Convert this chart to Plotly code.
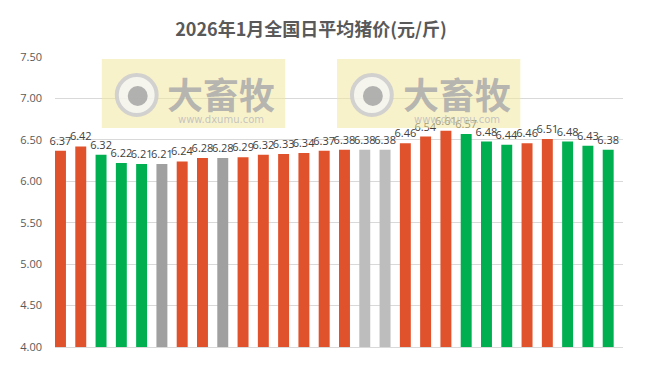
import plotly.graph_objects as go

days = [f"1月{i}日" for i in range(1, 29)]
prices = [6.37, 6.42, 6.32, 6.22, 6.21, 6.21, 6.24, 6.28, 6.28, 6.29, 6.32, 6.33, 6.34, 6.37,
          6.38, 6.38, 6.38, 6.46, 6.54, 6.61, 6.57, 6.48, 6.44, 6.46, 6.51, 6.48, 6.43, 6.38]
trend = ["up", "up", "down", "down", "down", "flat", "up", "up", "flat", "up", "up", "up", "up", "up",
         "up", "flat2", "flat2", "up", "up", "up", "down", "down", "down", "up", "up", "down", "down", "down"]
y_ticks = [4.00, 4.50, 5.00, 5.50, 6.00, 6.50, 7.00, 7.50]

color_map = {"up": "#E0522B", "down": "#00B050", "flat": "#A0A0A0", "flat2": "#BDBDBD"}
colors = [color_map[t] for t in trend]

fig = go.Figure()
fig.add_trace(go.Bar(
    x=days, y=prices, marker_color=colors, marker_line_width=0,
    width=0.54, offset=-0.5,
    text=[f"{v:.2f}" for v in prices], textposition="outside",
    textfont=dict(size=11, color="#404040", family="Open Sans"),
    constraintext="none", cliponaxis=False, hoverinfo="x+y",
))

OFF = 8  # page body margin
FW, FH = 649 - OFF, 367 - OFF
L, R, T, B = 53, 623, 57, 347  # screen pixels of plot area
W, H = R - L, B - T
def px(x): return (x - L) / W
def py(y): return (B - y) / H

shapes = []
annotations = []
for x0 in (100, 336):
    x1 = x0 + 184
    shapes.append(dict(type="rect", xref="paper", yref="paper", x0=px(x0), x1=px(x1), y0=py(128), y1=py(59),
                       fillcolor="rgba(242,232,160,0.55)", line_width=0, layer="above"))
    cx, cy = x0 + 35, 95
    shapes.append(dict(type="circle", xref="paper", yref="paper", x0=px(cx - 20), x1=px(cx + 20),
                       y0=py(cy + 20), y1=py(cy - 20), fillcolor="rgba(245,245,245,0.8)",
                       line=dict(color="rgba(205,205,205,0.9)", width=4), layer="above"))
    shapes.append(dict(type="circle", xref="paper", yref="paper", x0=px(cx - 9), x1=px(cx + 11),
                       y0=py(cy + 11), y1=py(cy - 9), fillcolor="rgba(165,165,165,0.85)",
                       line_width=0, layer="above"))
    annotations.append(dict(text="<b>大畜牧</b>", xref="paper", yref="paper", x=px(x0 + 120), y=py(93),
                            xanchor="center", yanchor="middle",
                            showarrow=False, font=dict(size=36, color="rgba(170,170,170,0.85)",
                                                       family="Noto Sans CJK SC")))
    annotations.append(dict(text="www.dxumu.com", xref="paper", yref="paper", x=px(x0 + 120), y=py(119),
                            xanchor="center", yanchor="middle",
                            showarrow=False, font=dict(size=10, color="rgba(190,190,190,0.9)",
                                                       family="DejaVu Sans")))

fig.update_layout(
    width=FW, height=FH,
    margin=dict(l=L - OFF, r=649 - R, t=T - OFF, b=367 - B),
    paper_bgcolor="white", plot_bgcolor="white",
    title=dict(text="<b>2026年1月全国日平均猪价(元/斤)</b>", x=(311 - OFF) / FW, xanchor="center",
               y=1 - (30 - OFF) / FH, yanchor="middle",
               font=dict(size=18, color="#595959", family="Noto Sans CJK SC")),
    showlegend=False,
    xaxis=dict(showticklabels=False, showgrid=False, showline=True, linecolor="#D9D9D9",
               linewidth=1, ticks="", range=[-0.5, 27.5]),
    yaxis=dict(range=[4, 7.5], tickvals=y_ticks, ticktext=[f"{v:.2f}" for v in y_ticks],
               showgrid=True, gridcolor="#D9D9D9", gridwidth=1, zeroline=False,
               tickfont=dict(size=11, color="#595959", family="Open Sans"), ticks="", ticklen=0,
               ticklabelstandoff=12),
    shapes=shapes, annotations=annotations,
)

fig.write_html("out.html")
